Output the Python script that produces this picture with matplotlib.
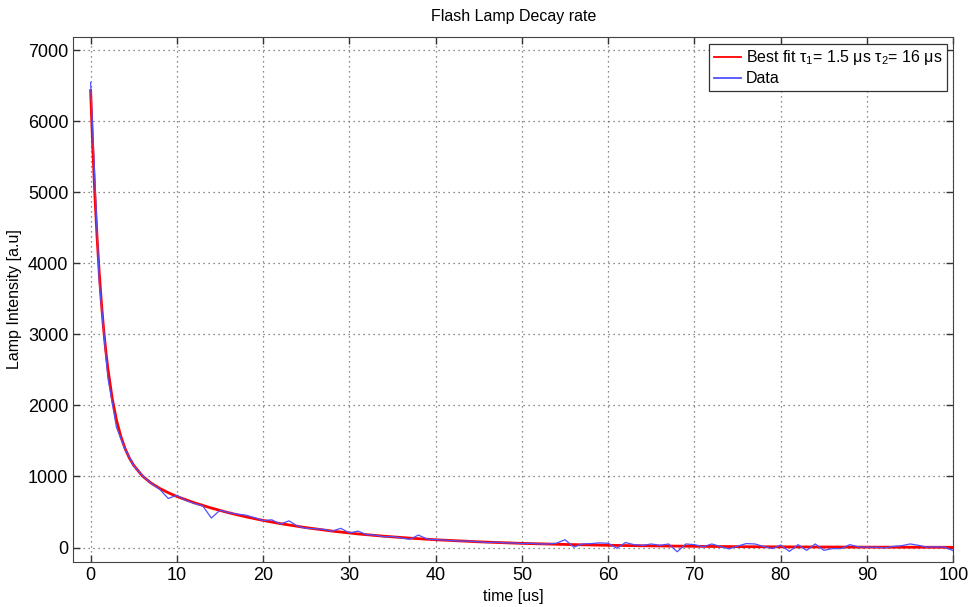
import numpy as np
import matplotlib.pyplot as plt

plt.rcParams['font.family'] = ['Liberation Sans', 'DejaVu Sans']

# measured lamp intensity, one sample per microsecond
t_data = np.arange(0, 101)
data = [6545, 3750, 2390, 1690, 1380, 1150, 1010, 905, 820, 690,
        735, 665, 620, 585, 415, 525, 490, 470, 455, 420,
        380, 390, 330, 375, 300, 270, 265, 255, 230, 270,
        205, 230, 180, 175, 150, 155, 135, 115, 175, 120,
        110, 105, 95, 90, 90, 80, 70, 75, 65, 65,
        55, 60, 50, 50, 60, 110, 5, 50, 55, 65,
        60, -10, 70, 40, 30, 50, 30, 50, -60, 50,
        40, 10, 50, 15, -20, 20, 55, 50, 15, -15,
        35, -55, 40, -40, 50, -40, -15, -15, 40, 10,
        5, 5, -5, 15, 25, 50, 30, 5, 10, 5,
        -45]

# best fit curve (double exponential)
t_fit = [0, 0.25, 0.5, 0.75, 1, 1.25, 1.5, 1.75, 2, 2.5, 3, 3.5, 4, 4.5, 5,
         6, 7, 8, 9, 10, 12, 14, 16, 18, 20, 22, 25, 28, 31, 34, 37, 40,
         45, 50, 55, 60, 65, 70, 75, 80, 90, 100]
fit = [6430, 5626, 4943, 4362, 3867, 3446, 3087, 2780, 2518, 2101, 1793, 1564, 1390, 1258, 1155,
       1007, 907, 832, 771, 718, 630, 555, 489, 432, 381, 336, 279, 231, 191, 159, 132, 109,
       80, 58, 43, 31, 23, 17, 12, 9, 5, 3]

fig = plt.figure(figsize=(9.69, 6.07), dpi=100)
ax = fig.add_axes([0.0757, 0.0746, 0.9081, 0.864])

ax.plot(t_fit, fit, color='#ff0000', lw=2.0, label=r'Best fit $\mathregular{\tau_1}$= 1.5 μs $\mathregular{\tau_2}$= 16 μs')
ax.plot(t_data, data, color='#5050ff', lw=0.9, label='Data')

ax.set_xlim(-2, 100)
ax.set_ylim(-200, 7180)
ax.set_xticks(np.arange(0, 101, 10))
ax.set_yticks(np.arange(0, 7001, 1000))
ax.tick_params(direction='in', length=5, width=1, top=True, right=True, labelsize=13, colors='#333333', labelcolor='black')
for s in ax.spines.values():
    s.set_color('#444444')
ax.grid(True, linestyle=(0, (1, 3)), color='#666666', linewidth=0.9)

ax.set_title('Flash Lamp Decay rate', fontsize=11.5, pad=12)
ax.set_xlabel('time [us]', fontsize=11.5, labelpad=4)
ax.set_ylabel('Lamp Intensity [a.u]', fontsize=11.5, labelpad=4)

leg = ax.legend(loc='upper right', fontsize=11.5, fancybox=False, framealpha=1,
                edgecolor='#333333', handlelength=1.7, borderaxespad=0.4,
                borderpad=0.3, labelspacing=0.25, handletextpad=0.3)
leg.get_frame().set_linewidth(0.9)
for line in leg.get_lines():
    line.set_linewidth(1.3)

fig.savefig('out.png', dpi=100)
